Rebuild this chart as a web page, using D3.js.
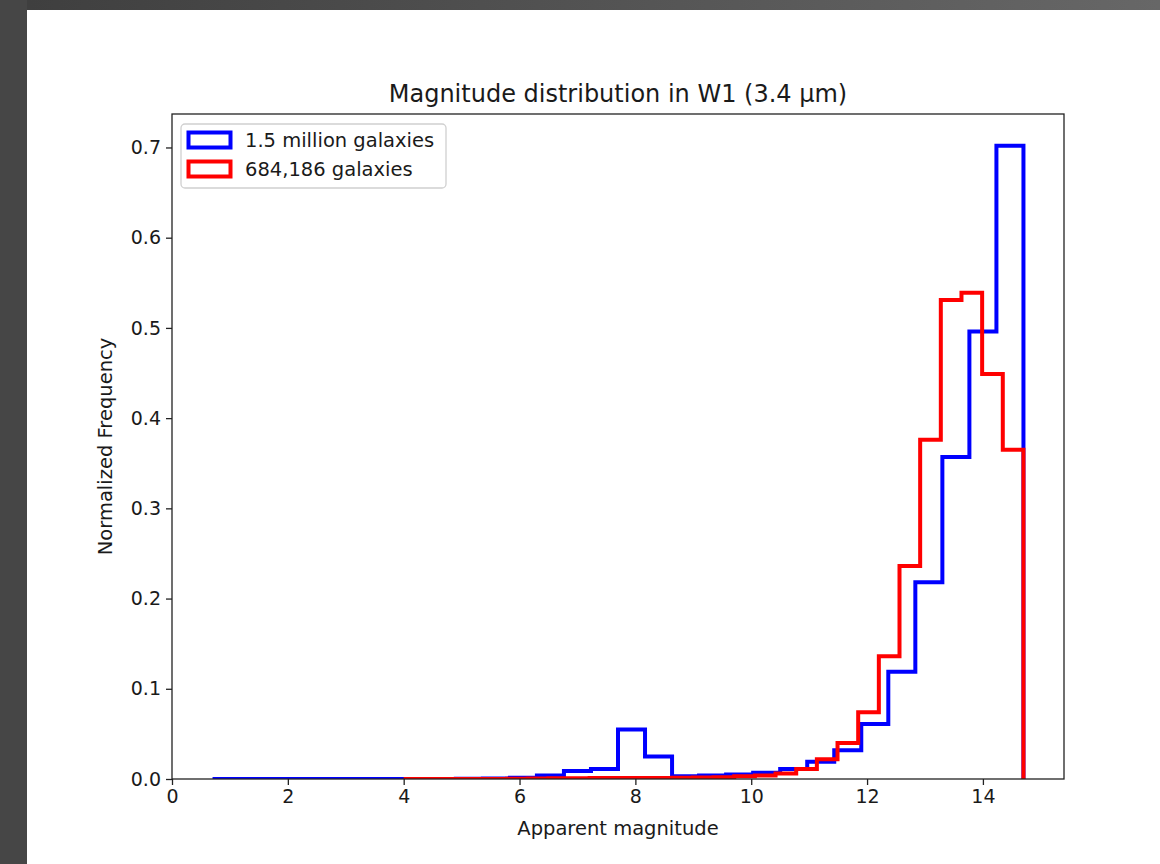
<!DOCTYPE html>
<meta charset="UTF-8">
<style>
  body { margin: 0; background: #fff; }
  text { font-family: "DejaVu Sans", sans-serif; fill: #1a1a1a; }
  .axis path, .axis line { stroke: #222; stroke-width: 1.3px; }
  .hist { fill: none; stroke-width: 4px; stroke-linejoin: miter; }
</style>
<body>
<script src="https://d3js.org/d3.v7.min.js"></script>
<script>

// histogram bins (matplotlib style: range + bin count)
var allRange = [0.7, 14.7];    // 1.5 million galaxies
var subRange = [4.0, 14.7];    // 684,186 galaxies
var nBins = 30;

// normalized frequency per bin
var allValues = [0, 0, 0, 0, 0, 0, 0, 0, 0.0001, 0.0003,
                 0.0006, 0.0015, 0.004, 0.009, 0.011, 0.055, 0.025, 0.003, 0.004, 0.005,
                 0.007, 0.011, 0.019, 0.032, 0.061, 0.119, 0.218, 0.357, 0.496, 0.702];
var subValues = [0, 0, 0, 0, 0, 0.0003, 0.0005, 0.0007, 0.0008, 0.001,
                 0.001, 0.001, 0.0012, 0.0015, 0.0018, 0.002, 0.003, 0.004, 0.006, 0.011,
                 0.022, 0.040, 0.074, 0.136, 0.236, 0.376, 0.531, 0.539, 0.449, 0.365];

var seriesNames = ["1.5 million galaxies", "684,186 galaxies"];
var seriesColors = ["#0000ff", "#ff0000"];
var xTicks = [0, 2, 4, 6, 8, 10, 12, 14];
var yTicks = [0, 0.1, 0.2, 0.3, 0.4, 0.5, 0.6, 0.7];

var W = 1160, H = 864;
var margin = {top: 114, right: 96, bottom: 85, left: 172},
    width = W - margin.left - margin.right,
    height = H - margin.top - margin.bottom;

var svg = d3.select("body").append("svg")
    .attr("width", W)
    .attr("height", H);

// the dark frame around the screenshot
var grad = svg.append("defs").append("linearGradient")
    .attr("id", "topbar").attr("x1", 0).attr("x2", 1);
grad.append("stop").attr("offset", 0).attr("stop-color", "#3e3e3e");
grad.append("stop").attr("offset", 1).attr("stop-color", "#676767");
svg.append("rect").attr("x", 0).attr("y", 0).attr("width", W).attr("height", 10)
    .attr("fill", "url(#topbar)");
svg.append("rect").attr("x", 0).attr("y", 0).attr("width", 27).attr("height", H)
    .attr("fill", "#464646");

var g = svg.append("g")
    .attr("transform", "translate(" + margin.left + "," + margin.top + ")");

// matplotlib autoscale: 5% margins on x, 5% on top of y
var span = allRange[1] - allRange[0];
var x = d3.scaleLinear()
    .domain([allRange[0] - 0.05 * span, allRange[1] + 0.05 * span])
    .range([0, width]);
var ymax = d3.max(allValues.concat(subValues)) * 1.05;
var y = d3.scaleLinear().domain([0, ymax]).range([height, 0]);

function stepPath(range, values) {
  var w = (range[1] - range[0]) / values.length;
  var pts = [[range[0], 0]];
  values.forEach(function(v, i) {
    pts.push([range[0] + i * w, v]);
    pts.push([range[0] + (i + 1) * w, v]);
  });
  pts.push([range[1], 0]);
  return d3.line().x(function(d) { return x(d[0]); })
                  .y(function(d) { return y(d[1]); })(pts);
}

g.append("defs").append("clipPath").attr("id", "clip")
  .append("rect").attr("width", width).attr("height", height);

var plot = g.append("g").attr("clip-path", "url(#clip)");
plot.append("path").attr("class", "hist")
    .attr("stroke", seriesColors[0])
    .attr("d", stepPath(allRange, allValues));
plot.append("path").attr("class", "hist")
    .attr("stroke", seriesColors[1])
    .attr("d", stepPath(subRange, subValues));

// axes
var xAxis = g.append("g").attr("class", "axis")
    .attr("transform", "translate(0," + height + ")")
    .call(d3.axisBottom(x).tickValues(xTicks).tickSize(6).tickPadding(5).tickSizeOuter(0));
var yAxis = g.append("g").attr("class", "axis")
    .call(d3.axisLeft(y).tickValues(yTicks).tickFormat(d3.format(".1f"))
          .tickSize(6).tickPadding(5).tickSizeOuter(0));
g.selectAll(".axis text").style("font-size", "19px").attr("fill", "#1a1a1a");
g.selectAll(".axis .domain").remove();

// frame
g.append("rect").attr("width", width).attr("height", height)
    .attr("fill", "none").attr("stroke", "#222").attr("stroke-width", 1.3);

// labels
svg.append("text")
    .attr("x", margin.left + width / 2).attr("y", 102)
    .attr("text-anchor", "middle").style("font-size", "24px")
    .text("Magnitude distribution in W1 (3.4 µm)");
svg.append("text")
    .attr("x", margin.left + width / 2).attr("y", 835)
    .attr("text-anchor", "middle").style("font-size", "19.5px")
    .text("Apparent magnitude");
svg.append("text")
    .attr("transform", "translate(112," + (margin.top + height / 2) + ") rotate(-90)")
    .attr("text-anchor", "middle").style("font-size", "19.5px")
    .text("Normalized Frequency");

// legend
var leg = g.append("g").attr("transform", "translate(9,10)");
leg.append("rect").attr("width", 265).attr("height", 64).attr("rx", 4)
    .attr("fill", "#fff").attr("fill-opacity", 0.8)
    .attr("stroke", "#d0d0d0").attr("stroke-width", 1.3);
seriesNames.forEach(function(name, i) {
  var row = leg.append("g").attr("transform", "translate(0," + (i * 29) + ")");
  row.append("rect").attr("x", 7.5).attr("y", 8.5).attr("width", 42).attr("height", 15)
      .attr("fill", "none").attr("stroke", seriesColors[i]).attr("stroke-width", 4);
  row.append("text").attr("x", 64).attr("y", 23)
      .style("font-size", "19.5px").text(name);
});

</script>
</body>
